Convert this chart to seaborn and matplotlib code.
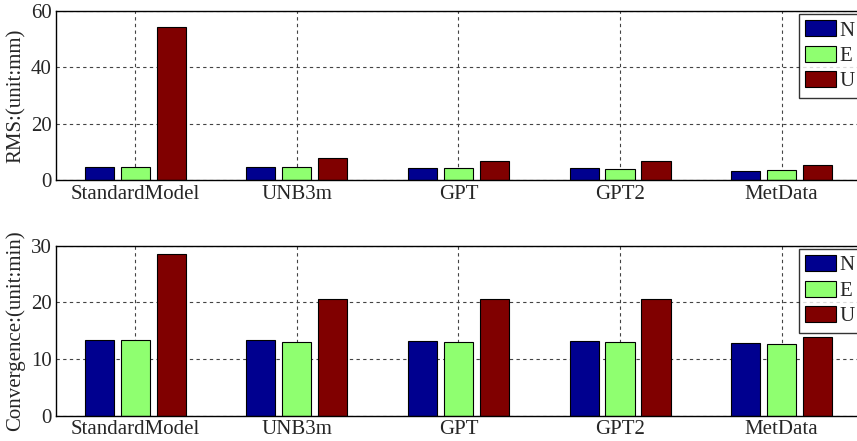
import pandas as pd
import matplotlib.pyplot as plt
import seaborn as sns
from matplotlib.patches import Patch

# -------------------- DATA --------------------
models = ["StandardModel", "UNB3m", "GPT", "GPT2", "MetData"]
components = ["N", "E", "U"]

rms_n = [4.8, 4.6, 4.3, 4.3, 3.4]
rms_e = [4.8, 4.6, 4.3, 3.9, 3.7]
rms_u = [54.5, 7.8, 7.0, 6.7, 5.3]

conv_n = [13.4, 13.4, 13.2, 13.2, 12.8]
conv_e = [13.3, 13.1, 13.0, 13.0, 12.7]
conv_u = [28.5, 20.7, 20.6, 20.6, 13.9]

colors = ["#00008f", "#8fff70", "#800000"]


def to_long(n, e, u):
    rows = []
    for comp, vals in zip(components, [n, e, u]):
        for m, v in zip(models, vals):
            rows.append({"model": m, "comp": comp, "value": v})
    return pd.DataFrame(rows)


# -------------------- PLOT --------------------
def draw_panel(ax, df, ylim, yticks, ylabel):
    sns.barplot(data=df, x="model", y="value", hue="comp", order=models,
                hue_order=components, palette=colors, saturation=1,
                width=0.667, gap=0.19, edgecolor="black", linewidth=0.8,
                ax=ax, legend=False)
    ax.set_axisbelow(True)
    ax.grid(True, linestyle=(0, (3, 3)), color="#444444", linewidth=0.8)
    ax.set_xlim(-0.49, 4.51)
    ax.set_ylim(*ylim)
    ax.set_yticks(yticks)
    ax.set_xlabel("")
    ax.set_ylabel(ylabel, fontsize=15, labelpad=4)
    ax.tick_params(axis="y", direction="in", length=4, labelsize=15, pad=3)
    ax.tick_params(axis="x", length=0, labelsize=15, pad=3)
    for s in ax.spines.values():
        s.set_color("black")
        s.set_linewidth(1.0)
    handles = [Patch(facecolor=c, edgecolor="black", linewidth=0.8) for c in colors]
    leg = ax.legend(handles, components, loc="upper right", fontsize=15,
                    frameon=True, fancybox=False, edgecolor="black",
                    handlelength=1.5, handleheight=0.8, handletextpad=0.15,
                    labelspacing=0.25, borderpad=0.3, borderaxespad=0.15)
    leg.get_frame().set_linewidth(1.0)


def main():
    sns.set_style("white")
    plt.rcParams["font.family"] = ["Liberation Serif", "DejaVu Serif"]

    fig = plt.figure(figsize=(8.57, 4.41), dpi=100)
    ax1 = fig.add_axes([0.0653, 0.591, 0.943, 0.384])
    ax2 = fig.add_axes([0.0653, 0.0574, 0.943, 0.385])

    draw_panel(ax1, to_long(rms_n, rms_e, rms_u), (0, 60), [0, 20, 40, 60],
               "RMS:(unit:mm)")
    draw_panel(ax2, to_long(conv_n, conv_e, conv_u), (0, 30), [0, 10, 20, 30],
               "Convergence:(unit:min)")

    fig.savefig("out.png", dpi=100)


if __name__ == "__main__":
    main()
